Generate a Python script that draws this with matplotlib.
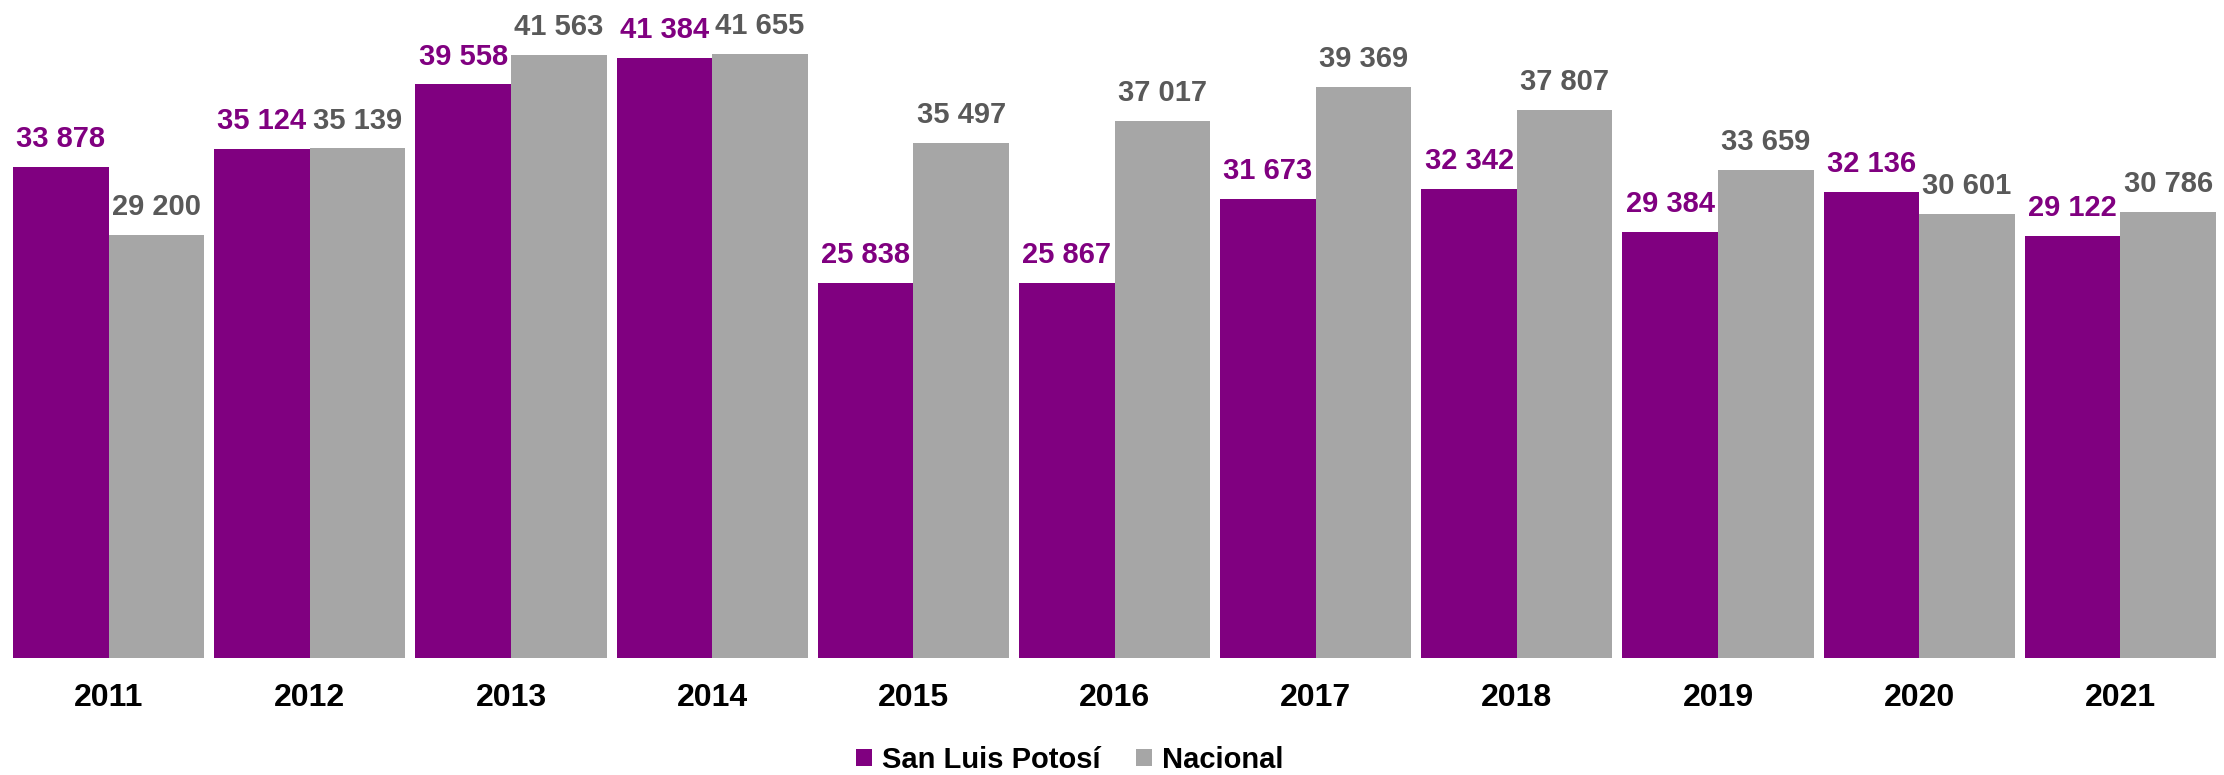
import matplotlib
matplotlib.use("Agg")
import matplotlib.pyplot as plt
import numpy as np
from matplotlib.patches import Patch

# Datos
years = ["2011", "2012", "2013", "2014", "2015", "2016", "2017", "2018", "2019", "2020", "2021"]
slp = [33878, 35124, 39558, 41384, 25838, 25867, 31673, 32342, 29384, 32136, 29122]
nacional = [29200, 35139, 41563, 41655, 35497, 37017, 39369, 37807, 33659, 30601, 30786]

PURPLE = "#800080"
GRAY = "#A6A6A6"
GRAY_TXT = "#595959"

plt.rcParams["font.family"] = ["Liberation Sans", "DejaVu Sans"]

fig = plt.figure(figsize=(22.24, 7.75), dpi=100)
ax = fig.add_axes([8 / 2224, 117 / 775, 2213 / 2224, 652.5 / 775])

x = np.arange(len(years))
w = 0.475

ax.bar(x - w / 2, slp, width=w, color=PURPLE, label="San Luis Potosí")
ax.bar(x + w / 2, nacional, width=w, color=GRAY, label="Nacional")


def fmt(v):
    return f"{v:,}".replace(",", " ")


for xi, v in zip(x - w / 2, slp):
    ax.annotate(fmt(v), (xi, v), xytext=(0, 10), textcoords="offset points",
                ha="center", va="bottom", fontsize=21, fontweight="bold", color=PURPLE)
for xi, v in zip(x + w / 2, nacional):
    ax.annotate(fmt(v), (xi, v), xytext=(0, 10), textcoords="offset points",
                ha="center", va="bottom", fontsize=21, fontweight="bold", color=GRAY_TXT)

ax.set_xlim(-0.5, len(years) - 0.5)
ax.set_ylim(0, 45000)
ax.set_xticks(x)
ax.set_xticklabels(years, fontsize=23, fontweight="bold", color="black")
ax.tick_params(axis="x", length=0, pad=18)
ax.set_yticks([])
for s in ax.spines.values():
    s.set_visible(False)

handles = [Patch(facecolor=PURPLE), Patch(facecolor=GRAY)]
fig.legend(handles, ["San Luis Potosí", "Nacional"], loc="center",
           bbox_to_anchor=(1070 / 2224, 1 - 760 / 775), ncol=2, frameon=False,
           prop={"size": 21, "weight": "bold"}, handlelength=0.55, handleheight=0.55,
           handletextpad=0.35, columnspacing=1.2)

fig.savefig("out.png", dpi=100, facecolor="white")
